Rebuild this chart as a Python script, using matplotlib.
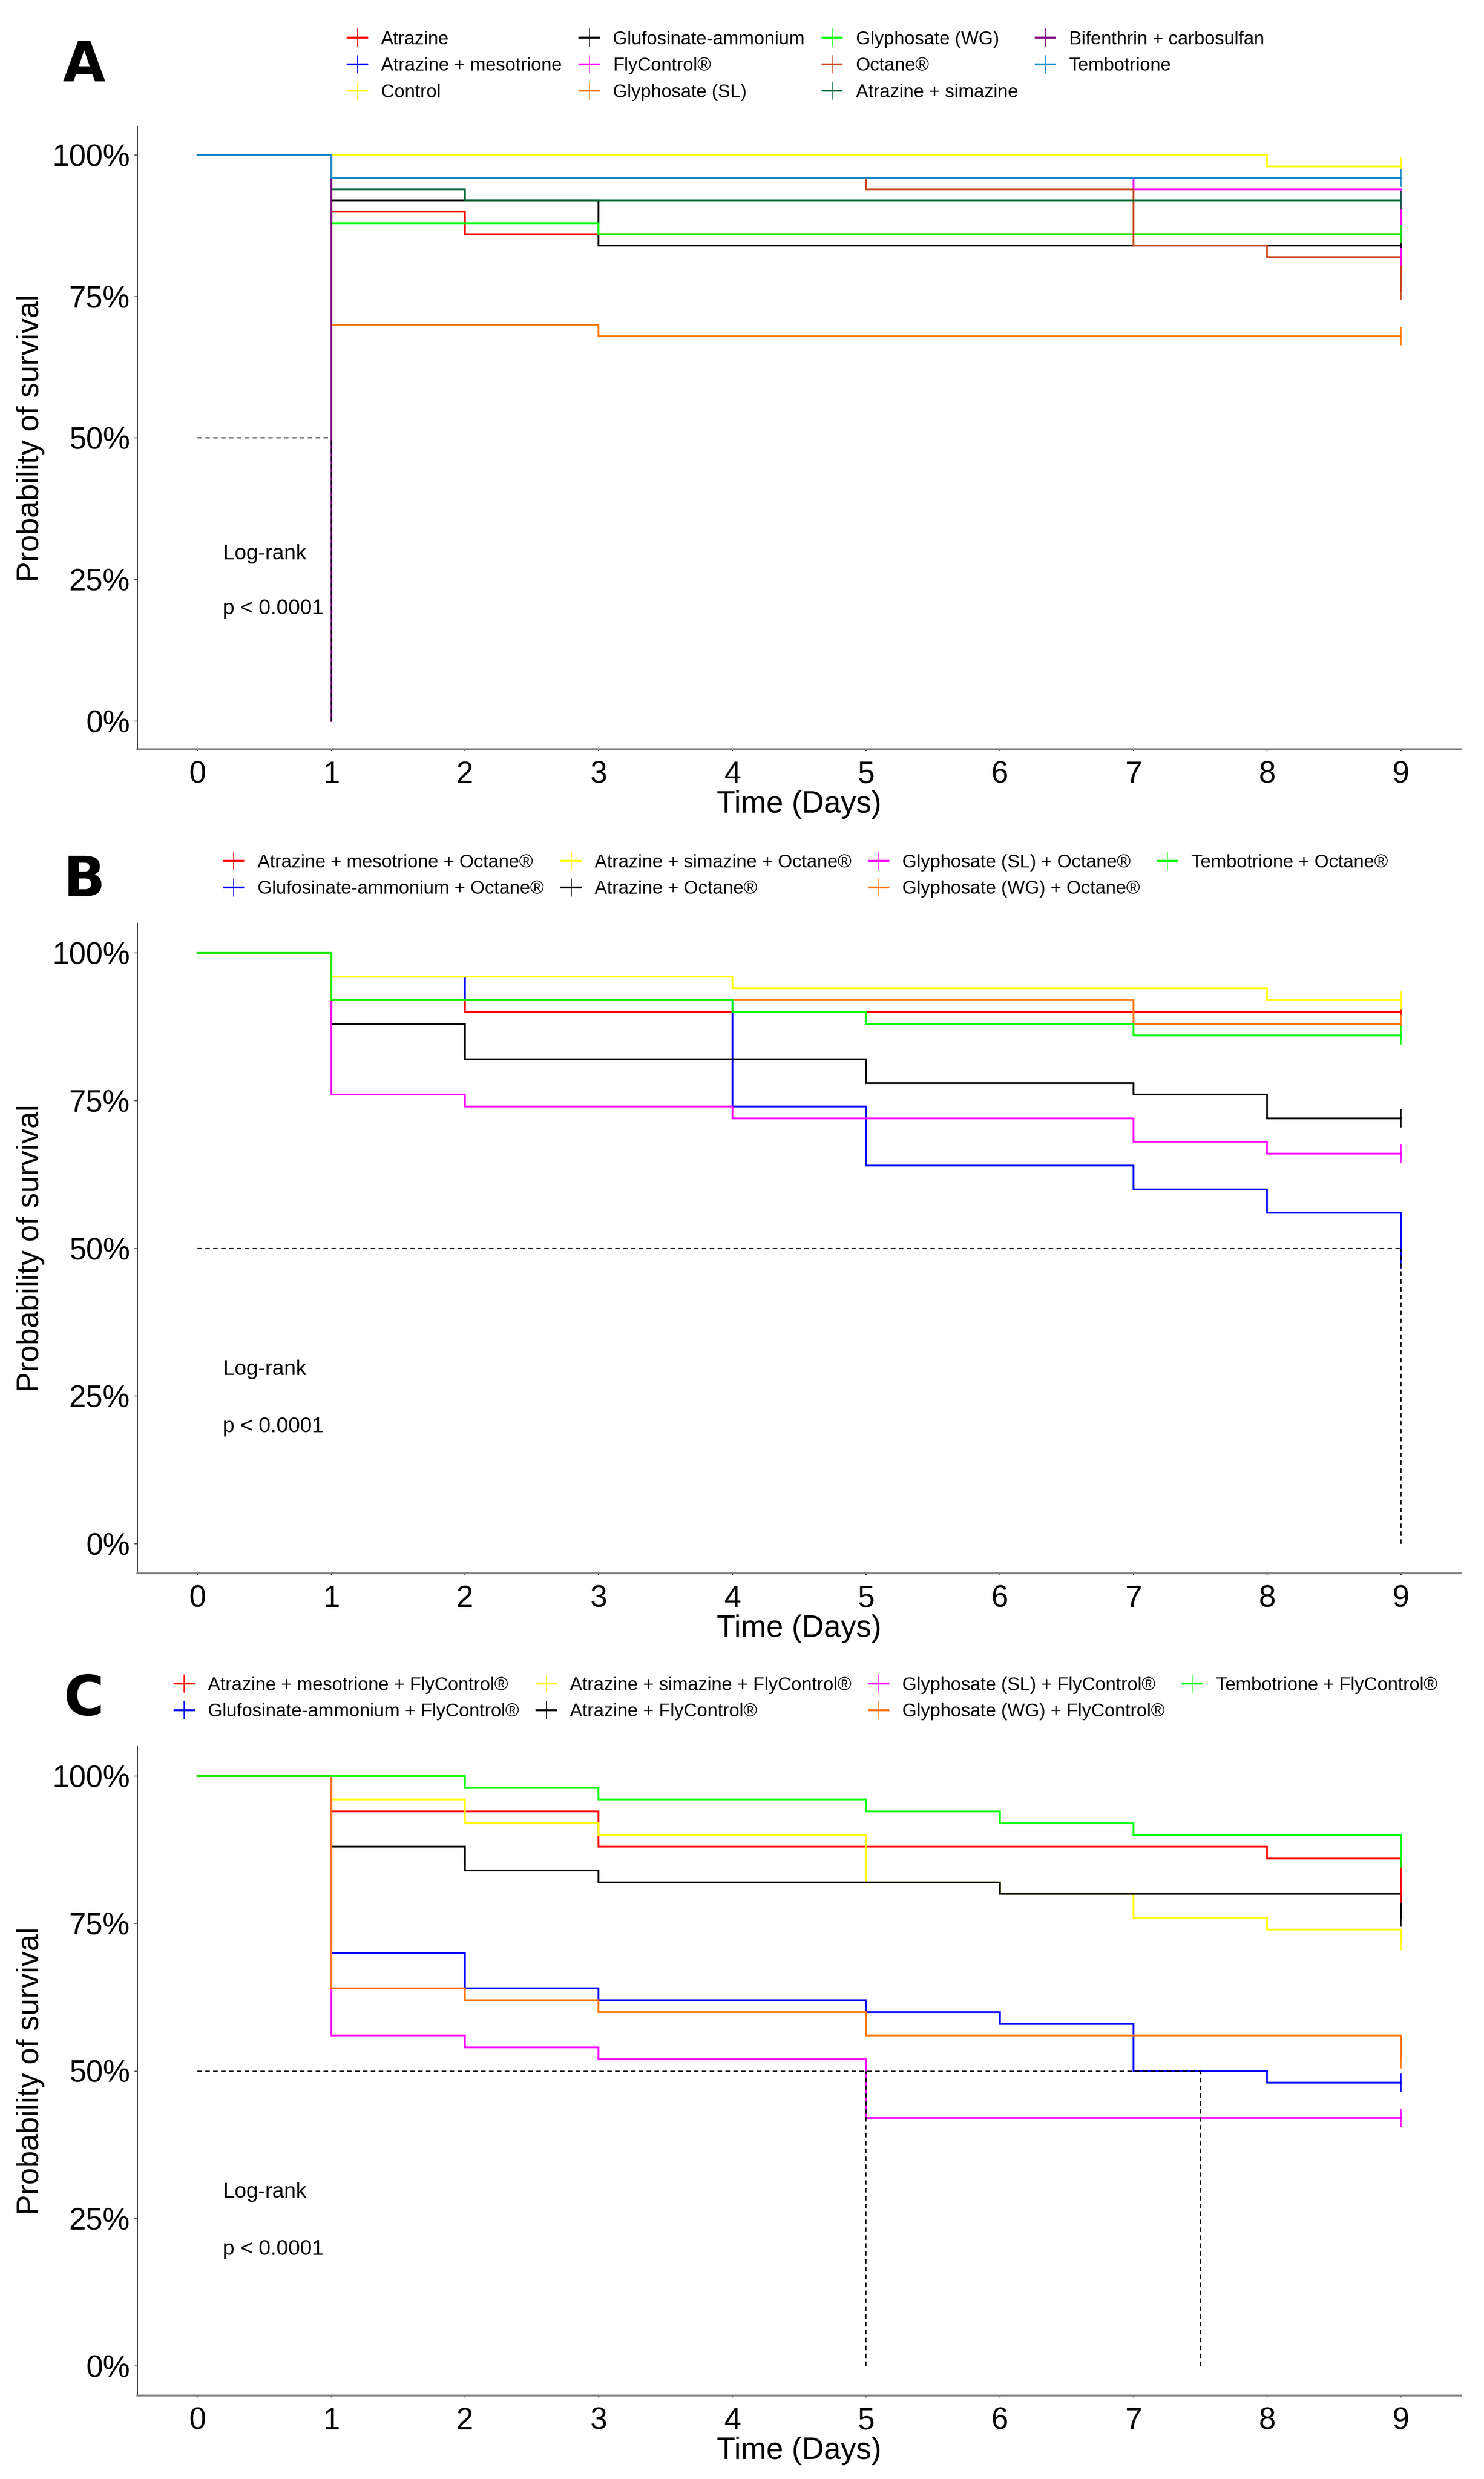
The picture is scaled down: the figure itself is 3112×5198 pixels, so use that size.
import matplotlib
matplotlib.use("Agg")
import matplotlib.pyplot as plt
from matplotlib.lines import Line2D

plt.rcParams['font.family'] = ['Liberation Sans', 'DejaVu Sans']

W, H = 3112, 5198
AX_LEFT, AX_RIGHT = 288, 3064

# ---- panel A : single products ----
a_labels = ["Atrazine", "Atrazine + mesotrione", "Control", "Glufosinate-ammonium",
            "FlyControl®", "Glyphosate (SL)", "Glyphosate (WG)", "Octane®",
            "Atrazine + simazine", "Bifenthrin + carbosulfan", "Tembotrione"]
a_colors = ["#FF0000", "#0000FF", "#FFFF00", "#000000", "#FF00FF", "#FF7400",
            "#00FF00", "#C8451A", "#006633", "#800080", "#1A90CC"]
a_times = [[0, 1, 2, 9], [0, 1, 9], [0, 8, 9], [0, 1, 3, 9], [0, 1, 7, 9],
           [0, 1, 3, 9], [0, 1, 3, 9], [0, 1, 5, 7, 8, 9], [0, 1, 2, 9],
           [0, 1], [0, 1, 9]]
a_surv = [[1, .90, .86, .82], [1, .96, .96], [1, .98, .98], [1, .92, .84, .84],
          [1, .96, .94, .82], [1, .70, .68, .68], [1, .88, .86, .86],
          [1, .96, .94, .84, .82, .76], [1, .94, .92, .92], [1, 0],
          [1, .96, .96]]
a_medians = [1]

# ---- panel B : mixtures with Octane ----
b_labels = ["Atrazine + mesotrione + Octane®", "Glufosinate-ammonium + Octane®",
            "Atrazine + simazine + Octane®", "Atrazine + Octane®",
            "Glyphosate (SL) + Octane®", "Glyphosate (WG) + Octane®",
            "Tembotrione + Octane®"]
b_colors = ["#FF0000", "#0000FF", "#FFFF00", "#000000", "#FF00FF", "#FF7400", "#00FF00"]
b_times = [[0, 1, 2, 9], [0, 1, 2, 4, 5, 7, 8, 9], [0, 1, 4, 8, 9],
           [0, 1, 2, 5, 7, 8, 9], [0, 1, 2, 4, 7, 8, 9], [0, 1, 7, 9],
           [0, 1, 4, 5, 7, 9]]
b_surv = [[1, .92, .90, .90], [1, .96, .92, .74, .64, .60, .56, .48],
          [1, .96, .94, .92, .92], [1, .88, .82, .78, .76, .72, .72],
          [1, .76, .74, .72, .68, .66, .66], [1, .92, .88, .88],
          [1, .92, .90, .88, .86, .86]]
b_medians = [9]

# ---- panel C : mixtures with FlyControl ----
c_labels = ["Atrazine + mesotrione + FlyControl®", "Glufosinate-ammonium + FlyControl®",
            "Atrazine + simazine + FlyControl®", "Atrazine + FlyControl®",
            "Glyphosate (SL) + FlyControl®", "Glyphosate (WG) + FlyControl®",
            "Tembotrione + FlyControl®"]
c_colors = b_colors
c_times = [[0, 1, 3, 8, 9], [0, 1, 2, 3, 5, 6, 7, 8, 9],
           [0, 1, 2, 3, 5, 6, 7, 8, 9], [0, 1, 2, 3, 6, 9],
           [0, 1, 2, 3, 5, 9], [0, 1, 2, 3, 5, 9], [0, 2, 3, 5, 6, 7, 9]]
c_surv = [[1, .94, .88, .86, .80], [1, .70, .64, .62, .60, .58, .50, .48, .48],
          [1, .96, .92, .90, .82, .80, .76, .74, .72], [1, .88, .84, .82, .80, .76],
          [1, .56, .54, .52, .42, .42], [1, .64, .62, .60, .56, .52],
          [1, .98, .96, .94, .92, .90, .86]]
c_medians = [5, 7.5]

x_ticks = list(range(10))
y_ticks = [0, 0.25, 0.5, 0.75, 1.0]
y_ticklabels = ["0%", "25%", "50%", "75%", "100%"]

fig = plt.figure(figsize=(W / 100, H / 100), dpi=100)


def draw_panel(top, bottom, letter, letter_y, legend_top, legend_x,
               labels, colors, times, surv, medians):
    ax = fig.add_axes([AX_LEFT / W, 1 - bottom / H, (AX_RIGHT - AX_LEFT) / W,
                       (bottom - top) / H])
    for t, s, c in zip(times, surv, colors):
        ax.plot(t, s, drawstyle="steps-post", color=c, lw=2.6, solid_joinstyle="miter")
    # censoring marks at end of follow-up
    for t, s, c in zip(times, surv, colors):
        if s[-1] > 0:
            ax.plot([t[-1]], [s[-1]], marker="|", color=c, markersize=27,
                    markeredgewidth=1.6, linestyle="none")
    # median survival lines
    ax.plot([0, max(medians)], [0.5, 0.5], color="black", lw=1.7, dashes=(4, 3))
    for m in medians:
        ax.plot([m, m], [0, 0.5], color="black", lw=1.7, dashes=(4, 3))

    ax.text(0.19, 0.295, "Log-rank", fontsize=32, ha="left", va="center")
    ax.text(0.19, 0.198, "p < 0.0001", fontsize=32, ha="left", va="center")

    ax.set_xlim(-0.45, 9.45)
    ax.set_ylim(-0.05, 1.05)
    ax.set_xticks(x_ticks)
    ax.set_yticks(y_ticks)
    ax.set_yticklabels(y_ticklabels)
    ax.tick_params(axis="x", labelsize=46, length=3, width=1.5, pad=14, colors="black")
    ax.tick_params(axis="y", labelsize=46, length=4, width=1.5, pad=7, color="#555555")
    for side in ["top", "right"]:
        ax.spines[side].set_visible(False)
    ax.spines["left"].set_color("black")
    ax.spines["left"].set_linewidth(1.5)
    ax.spines["bottom"].set_color("#808080")
    ax.spines["bottom"].set_linewidth(2.8)

    ax.set_xlabel("Time (Days)", fontsize=46, va="center")
    ax.xaxis.set_label_coords(0.5, -116 / (bottom - top))
    ax.set_ylabel("Probability of survival", fontsize=46, va="center")
    ax.yaxis.set_label_coords((64 - AX_LEFT) / (AX_RIGHT - AX_LEFT), 0.5)

    fig.text(176 / W, 1 - letter_y / H, letter, fontsize=83, fontweight="heavy",
             family="DejaVu Sans", ha="center", va="center")

    handles = [Line2D([0], [0], color=c, lw=3, marker="|", markersize=27,
                      markeredgewidth=1.4) for c in colors]
    fig.legend(handles, labels, ncol=4, loc="upper center",
               bbox_to_anchor=(legend_x / W, 1 - legend_top / H), frameon=False,
               fontsize=28, handlelength=1.05, handletextpad=0.75,
               columnspacing=0.95, labelspacing=0.5, borderpad=0, borderaxespad=0)
    return ax


draw_panel(266, 1571, "A", 137, 65, 1690, a_labels, a_colors, a_times, a_surv, a_medians)
draw_panel(1936, 3299, "B", 1847, 1791, 1690, b_labels, b_colors, b_times, b_surv, b_medians)
draw_panel(3662, 5023, "C", 3564, 3516, 1690, c_labels, c_colors, c_times, c_surv, c_medians)

fig.savefig("out.png", dpi=100, facecolor="white")
